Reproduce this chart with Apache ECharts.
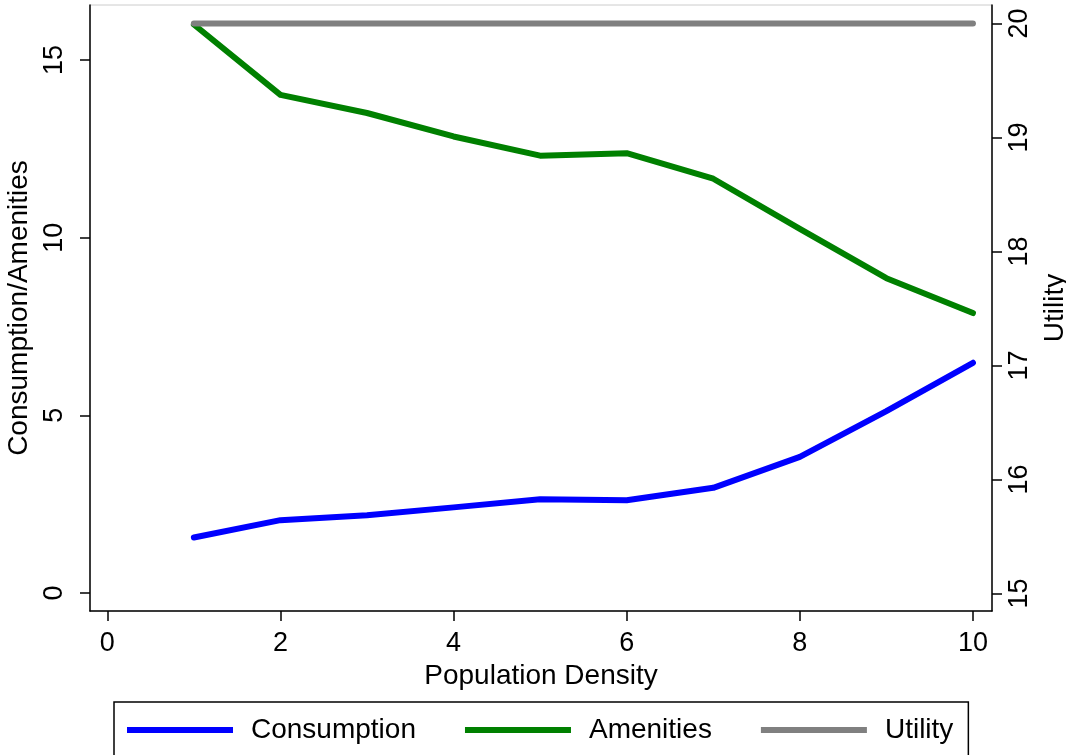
<!DOCTYPE html>
<html>
<head>
<meta charset="utf-8">
<script src="https://cdn.jsdelivr.net/npm/echarts@6/dist/echarts.min.js"></script>
<style>
  html, body { margin: 0; padding: 0; background: #fff; }
  #chart { width: 1066px; height: 755px; }
</style>
</head>
<body>
<div id="chart"></div>
<script>
// Population density grid (x axis)
const density = [1, 2, 3, 4, 5, 6, 7, 8, 9, 10];

// Series values, left axis (Consumption/Amenities) and right axis (Utility)
const consumption = [1.56, 2.05, 2.19, 2.41, 2.64, 2.61, 2.96, 3.83, 5.12, 6.48];
const amenities   = [16.0, 14.02, 13.51, 12.85, 12.31, 12.38, 11.66, 10.25, 8.86, 7.88];
const utility     = [20, 20, 20, 20, 20, 20, 20, 20, 20, 20];

// Tick labels
const xTicks      = [0, 2, 4, 6, 8, 10];
const leftTicks   = [0, 5, 10, 15];
const rightTicks  = [15, 16, 17, 18, 19, 20];

const FONT = 'Liberation Sans, Arial, Helvetica, sans-serif';
const FS = 27;      // tick labels
const FS_T = 28;    // axis titles and legend

const pairs = (ys) => density.map((x, i) => [x, ys[i]]);

const axisLineStyle = { show: true, onZero: false, lineStyle: { color: '#000', width: 1.5 } };
const tickStyle = (vals) => ({
  show: true, inside: false, length: 10,
  lineStyle: { color: '#000', width: 1.5 },
  customValues: vals
});

const chart = echarts.init(document.getElementById('chart'), null, { renderer: 'canvas' });

chart.setOption({
  backgroundColor: '#fff',
  animation: false,
  textStyle: { fontFamily: FONT },
  grid: {
    left: 90, right: 74, top: 5, bottom: 144,
    containLabel: false,
    outerBoundsMode: 'none',
    show: true, borderColor: '#cccccc', borderWidth: 1, backgroundColor: '#fff'
  },
  legend: {
    left: 114, top: 702,
    icon: 'rect',
    itemWidth: 106, itemHeight: 6,
    itemGap: 49,
    padding: [14, 15, 20, 13],
    borderColor: '#000', borderWidth: 1.5,
    textStyle: { fontFamily: FONT, fontSize: FS_T, color: '#000', padding: [0, 0, 0, 13] },
    data: ['Consumption', 'Amenities', 'Utility']
  },
  xAxis: {
    type: 'value',
    min: -0.2, max: 10.22,
    name: 'Population Density',
    nameLocation: 'middle',
    nameGap: 44,
    nameTextStyle: { fontFamily: FONT, fontSize: FS_T, color: '#000' },
    axisLine: axisLineStyle,
    axisTick: tickStyle(xTicks),
    axisLabel: {
      customValues: xTicks, margin: 19,
      fontFamily: FONT, fontSize: FS, color: '#000'
    },
    splitLine: { show: false }
  },
  yAxis: [
    {
      type: 'value',
      position: 'left',
      min: -0.507, max: 16.55,
      name: 'Consumption/Amenities',
      nameLocation: 'middle',
      nameRotate: 90,
      nameGap: 48,
      nameTextStyle: { fontFamily: FONT, fontSize: FS_T, color: '#000' },
      axisLine: axisLineStyle,
      axisTick: tickStyle(leftTicks),
      axisLabel: {
        customValues: leftTicks, rotate: 90, margin: 22,
        fontFamily: FONT, fontSize: FS, color: '#000'
      },
      splitLine: { show: false }
    },
    {
      type: 'value',
      position: 'right',
      min: 14.847, max: 20.163,
      name: 'Utility',
      nameLocation: 'middle',
      nameRotate: 90,
      nameGap: 36,
      nameTextStyle: { fontFamily: FONT, fontSize: FS_T, color: '#000' },
      axisLine: axisLineStyle,
      axisTick: tickStyle(rightTicks),
      axisLabel: {
        customValues: rightTicks, rotate: 90, margin: 14,
        fontFamily: FONT, fontSize: FS, color: '#000'
      },
      splitLine: { show: false }
    }
  ],
  series: [
    {
      name: 'Consumption', type: 'line', yAxisIndex: 0,
      data: pairs(consumption),
      showSymbol: false, symbol: 'none',
      itemStyle: { color: '#0000ff' },
      lineStyle: { color: '#0000ff', width: 6, cap: 'round', join: 'round' }
    },
    {
      name: 'Amenities', type: 'line', yAxisIndex: 0,
      data: pairs(amenities),
      showSymbol: false, symbol: 'none',
      itemStyle: { color: '#008000' },
      lineStyle: { color: '#008000', width: 6, cap: 'round', join: 'round' }
    },
    {
      name: 'Utility', type: 'line', yAxisIndex: 1,
      data: pairs(utility),
      showSymbol: false, symbol: 'none',
      itemStyle: { color: '#808080' },
      lineStyle: { color: '#808080', width: 6, cap: 'round', join: 'round' }
    }
  ]
});
</script>
</body>
</html>
